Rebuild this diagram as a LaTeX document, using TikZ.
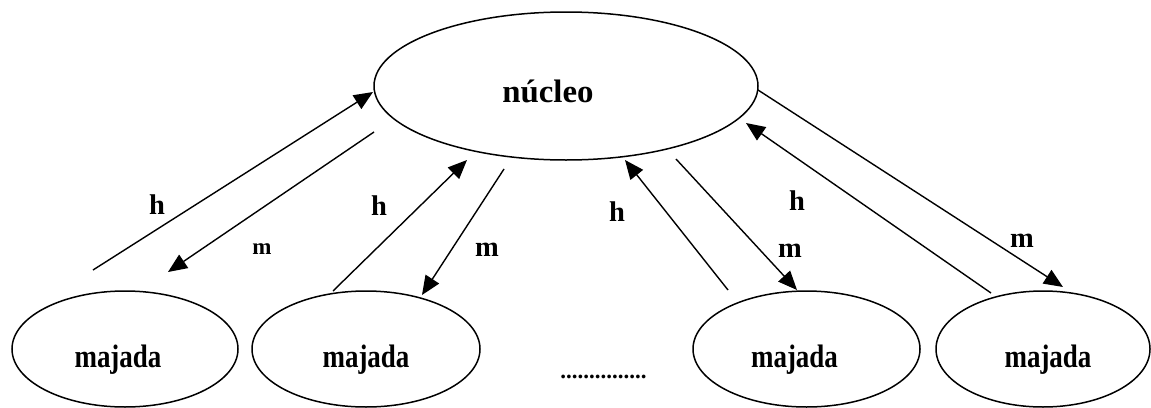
\documentclass[tikz,border=0pt]{standalone}
\usepackage{fontspec}
\setmainfont{Liberation Serif}
\usetikzlibrary{shapes.geometric,arrows.meta}
\begin{document}
\begin{tikzpicture}[x=1pt,y=-1pt,
  oval/.style={draw, ellipse, line width=1.5pt, inner sep=0pt, minimum height=116pt},
  word/.style={font=\fontsize{32.5}{38}\selectfont\bfseries, inner sep=0pt},
  tag/.style={font=\fontsize{28.5}{32}\selectfont\bfseries, inner sep=0pt},
  smalltag/.style={font=\fontsize{23}{26}\selectfont\bfseries, inner sep=0pt},
  flow/.style={line width=1.4pt, -{Triangle[length=19pt,width=16pt]}},
]
\useasboundingbox (0,0) rectangle (1151,407);

% central node
\node[oval, minimum width=384pt, minimum height=148pt,
      label={[word,xshift=-18pt,yshift=-5pt]center:\scalebox{1.01}[1]{núcleo}}]
      (nuc) at (566,86) {};

% outlying nodes
\node[oval, minimum width=226pt,
      label={[word,xshift=-7pt,yshift=-11pt]center:\scalebox{0.83}[1]{majada}}]
      (maj1) at (125,349) {};
\node[oval, minimum width=228pt,
      label={[word,xshift=0pt,yshift=-11pt]center:\scalebox{0.83}[1]{majada}}]
      (maj2) at (366,349) {};
\node[oval, minimum width=227pt,
      label={[word,xshift=-12pt,yshift=-11pt]center:\scalebox{0.83}[1]{majada}}]
      (maj3) at (806.5,349) {};
\node[oval, minimum width=214pt,
      label={[word,xshift=5pt,yshift=-11pt]center:\scalebox{0.83}[1]{majada}}]
      (maj4) at (1043,349) {};

% ellipsis between the two groups
\node[smalltag] (gap) at (603.5,377) {...............};

% connector ends
\coordinate (h1s) at (93,270);   \coordinate (h1e) at (373,92);
\coordinate (m1s) at (374,132);  \coordinate (m1e) at (168,272);
\coordinate (h2s) at (333,291);  \coordinate (h2e) at (467,160);
\coordinate (m2s) at (504,169);  \coordinate (m2e) at (422,295);
\coordinate (h3s) at (728,290);  \coordinate (h3e) at (625,160);
\coordinate (m3s) at (676,159);  \coordinate (m3e) at (797,290);
\coordinate (h4s) at (991,293);  \coordinate (h4e) at (746,123);
\coordinate (m4s) at (758,90);   \coordinate (m4e) at (1063,287);

% flows towards and from the centre
\draw[flow] (h1s) -- (h1e);
\draw[flow] (m1s) -- (m1e);
\draw[flow] (h2s) -- (h2e);
\draw[flow] (m2s) -- (m2e);
\draw[flow] (h3s) -- (h3e);
\draw[flow] (m3s) -- (m3e);
\draw[flow] (h4s) -- (h4e);
\draw[flow] (m4s) -- (m4e);

% flow labels
\node[tag]      (lh1) at (157,205) {h};
\node[smalltag] (lm1) at (262,249) {m};
\node[tag]      (lh2) at (379,206) {h};
\node[tag]      (lm2) at (487,250) {m};
\node[tag]      (lh3) at (617,212) {h};
\node[tag]      (lm3) at (790,251) {m};
\node[tag]      (lh4) at (797,201) {h};
\node[tag]      (lm4) at (1022,241) {m};
\end{tikzpicture}
\end{document}
